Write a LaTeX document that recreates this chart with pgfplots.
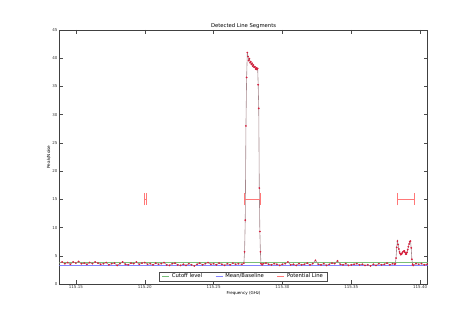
\documentclass[border=0pt]{standalone}
\usepackage{pgfplots}
\pgfplotsset{compat=1.18}
\usepackage{fontspec}
\setmainfont{DejaVu Sans}
\definecolor{cutg}{RGB}{120,190,120}
\definecolor{meanb}{RGB}{130,130,255}
\definecolor{potr}{RGB}{255,120,120}
\definecolor{specg}{RGB}{165,135,140}
\definecolor{dotr}{RGB}{215,30,60}
\begin{document}
\begin{tikzpicture}
\useasboundingbox (-59.5bp,-32bp) rectangle (415.5bp,284bp);
\begin{axis}[
  at={(0,0)}, anchor=south west,
  scale only axis, width=368.2bp, height=254bp,
  xmin=115.1381, xmax=115.4055, ymin=0, ymax=45,
  xtick={115.15,115.20,115.25,115.30,115.35,115.40},
  ytick={0,5,10,15,20,25,30,35,40,45},
  xticklabel style={/pgf/number format/fixed, /pgf/number format/fixed zerofill, /pgf/number format/precision=2, /pgf/number format/1000 sep={}},
  yticklabel style={/pgf/number format/fixed, /pgf/number format/precision=0},
  /pgf/number format/assume math mode=true,
  scaled x ticks=false, scaled y ticks=false,
  tick label style={font=\fontsize{4}{5}\selectfont, inner sep=0pt, text=black!80},
  xticklabel style={yshift=-1.5bp},
  yticklabel style={xshift=-1.8bp},
  major tick length=4bp, tick style={black!70, line width=0.4bp},
  axis line style={black!75, line width=0.6bp},
  every axis title shift=0pt,
  title={Detected Line Segments},
  title style={font=\fontsize{5.3}{6}\selectfont, at={(0.5,1)}, anchor=base, yshift=2.7bp, inner sep=0pt},
  xlabel={Frequency (GHz)},
  xlabel style={font=\fontsize{4.1}{5}\selectfont, at={(0.5,0)}, anchor=base, yshift=-10.8bp, inner sep=0pt},
  ylabel={Peak/Noise},
  ylabel style={font=\fontsize{4.2}{5}\selectfont, at={(0,0.5)}, anchor=center, yshift=10.8bp, inner sep=0pt},
  legend columns=3,
  legend style={at={(0.5,0)}, anchor=south, yshift=2.7bp, draw=black!70, line width=0.5bp, fill=white,
    font=\fontsize{5.3}{6}\selectfont, inner xsep=2.5bp, inner ysep=0.6bp, row sep=0pt,
    nodes={inner xsep=2.3bp, inner ysep=1bp},
    /tikz/every even column/.append style={column sep=11bp}},
  legend image code/.code={\draw[#1, line width=0.6bp] (0bp,0bp) -- (7bp,0bp);},
]
\addlegendimage{cutg}
\addlegendentry{Cutoff level}
\addlegendimage{meanb}
\addlegendentry{Mean/Baseline}
\addlegendimage{potr}
\addlegendentry{Potential Line}
% cutoff and mean
\addplot[cutg, line width=0.6bp, forget plot] coordinates {(115.1381,3.8) (115.4055,3.8)};
\addplot[meanb, line width=0.6bp, forget plot] coordinates {(115.1381,3.4) (115.4055,3.4)};
% spectrum
\addplot[specg, line width=0.6bp, mark=*, mark size=0.55bp, mark options={dotr, draw=none, fill=dotr, fill opacity=0.8}, forget plot] table {
115.138 3.7
115.140 3.9
115.142 3.6
115.144 3.8
115.146 3.5
115.148 3.9
115.150 3.7
115.152 4.0
115.154 3.6
115.156 3.7
115.158 3.5
115.160 3.8
115.162 3.6
115.164 3.9
115.166 3.7
115.168 3.5
115.170 3.6
115.172 3.8
115.174 3.4
115.176 3.6
115.178 3.7
115.180 3.3
115.182 3.6
115.184 3.9
115.186 3.5
115.188 3.4
115.190 3.7
115.192 3.6
115.194 3.9
115.196 3.5
115.198 3.7
115.200 3.8
115.202 3.5
115.204 3.6
115.206 3.4
115.208 3.7
115.210 3.5
115.212 3.6
115.214 3.8
115.216 3.4
115.218 3.3
115.220 3.6
115.222 3.7
115.224 3.4
115.226 3.3
115.228 3.5
115.230 3.3
115.232 3.6
115.234 3.4
115.236 3.2
115.238 3.5
115.240 3.7
115.242 3.4
115.244 3.6
115.246 3.8
115.248 3.5
115.250 3.6
115.252 3.4
115.254 3.7
115.256 3.5
115.258 3.3
115.260 3.6
115.262 3.4
115.264 3.7
115.266 3.5
115.268 3.6
115.2705 3.5
115.2720 3.7
115.2725 5.7
115.2730 11.3
115.2735 28.0
115.2740 36.6
115.2745 41.0
115.2750 40.3
115.2755 39.6
115.2760 39.9
115.2765 39.2
115.2770 39.4
115.2775 38.9
115.2780 39.1
115.2785 38.6
115.2790 38.8
115.2795 38.4
115.2800 38.5
115.2805 38.1
115.2810 38.3
115.2815 38.0
115.2820 38.2
115.2824 35.3
115.2828 31.1
115.2832 17.0
115.2836 9.3
115.2840 5.7
115.2844 3.6
115.2852 3.4
115.286 3.6
115.288 3.7
115.290 3.5
115.292 3.4
115.294 3.6
115.296 3.5
115.298 3.3
115.300 3.5
115.302 3.6
115.304 3.9
115.306 3.4
115.308 3.5
115.310 3.3
115.312 3.6
115.314 3.4
115.316 3.5
115.318 3.7
115.320 3.4
115.322 3.6
115.324 4.2
115.326 3.5
115.328 3.4
115.330 3.6
115.332 3.3
115.334 3.5
115.336 3.7
115.338 3.6
115.340 4.1
115.342 3.5
115.344 3.4
115.346 3.6
115.348 3.3
115.350 3.4
115.352 3.5
115.354 3.6
115.356 3.4
115.358 3.5
115.360 3.3
115.362 3.4
115.364 3.2
115.366 3.5
115.368 3.3
115.370 3.6
115.372 3.4
115.374 3.5
115.376 3.7
115.378 3.4
115.380 3.6
115.3815 3.5
115.3820 3.6
115.3825 4.6
115.3830 6.5
115.3835 7.6
115.3840 7.0
115.3845 6.2
115.3850 5.7
115.3855 5.4
115.3860 5.2
115.3865 5.3
115.3870 5.5
115.3875 5.7
115.3880 5.8
115.3885 5.85
115.3890 5.6
115.3895 5.3
115.3900 5.3
115.3905 5.6
115.3910 6.1
115.3915 6.6
115.3920 7.1
115.3925 7.5
115.3930 7.6
115.3935 6.4
115.3940 4.4
115.3945 3.5
115.3950 3.3
115.397 3.6
115.399 3.5
115.401 3.6
115.403 3.4
115.405 3.5
};
% detected segments
\addplot[draw=none, mark=none, forget plot,
  error bars/.cd, x dir=both, x explicit,
  error bar style={potr, line width=0.6bp, solid},
  error mark options={potr, line width=0.6bp, mark size=6bp, rotate=90}]
  coordinates {
  (115.2005,15) +- (0.0005,0)
  (115.2780,15) +- (0.00575,0)
  (115.3896,15) +- (0.0061,0)
};
\end{axis}
\end{tikzpicture}
\end{document}
